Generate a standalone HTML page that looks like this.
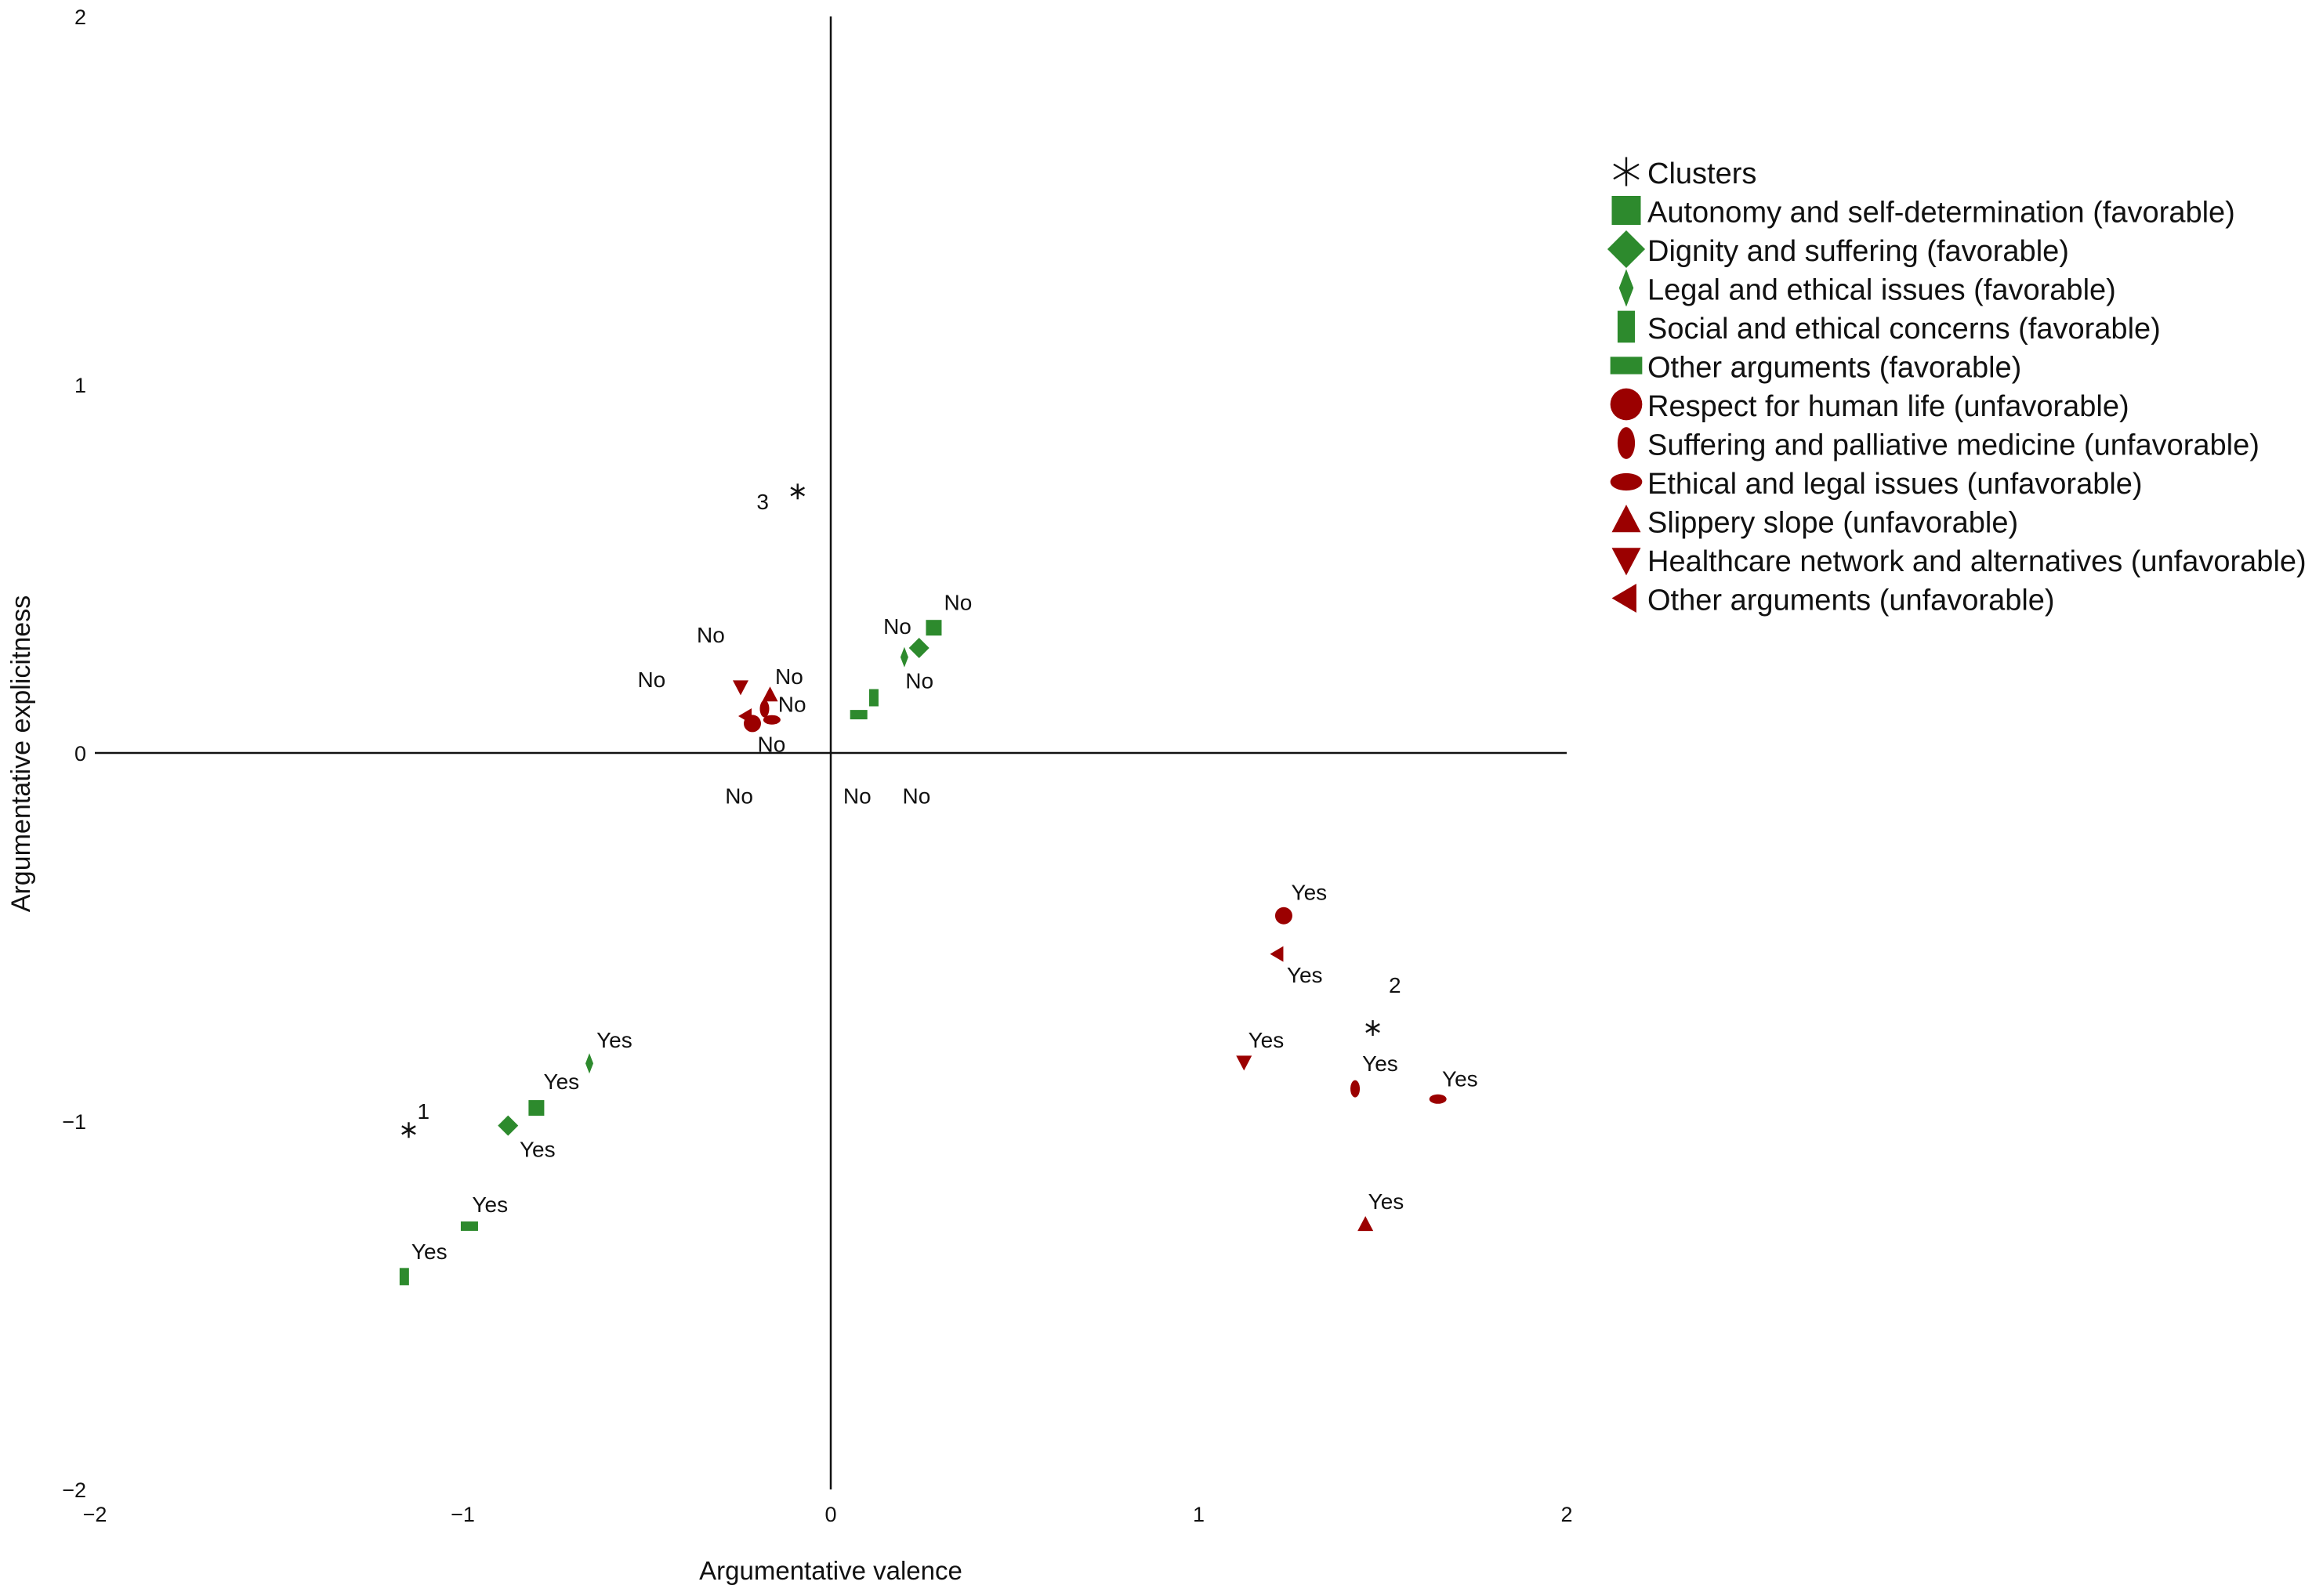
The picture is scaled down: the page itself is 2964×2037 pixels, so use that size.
<!DOCTYPE html>
<html><head><meta charset="utf-8"><style>
html,body{margin:0;padding:0;background:#fff;}
svg{display:block;font-family:"Liberation Sans",Arial,sans-serif;}
</style></head><body>
<svg id="chart" width="2964" height="2037" viewBox="0 0 2964 2037" xmlns="http://www.w3.org/2000/svg"></svg>
<script>
// ---- data ----
const pointTypes = ['autonomy','dignity','legalFav','social','otherFav','respect','suffering','ethicalUnf','slippery','healthcare','otherUnf',
                    'autonomy','dignity','legalFav','social','otherFav','respect','suffering','ethicalUnf','slippery','healthcare','otherUnf'];
const pointX = [0.28,0.24,0.20,0.117,0.076,-0.213,-0.18,-0.16,-0.165,-0.245,-0.23,
                -0.80,-0.877,-0.656,-1.159,-0.982,1.231,1.425,1.65,1.453,1.123,1.215];
const pointY = [0.34,0.285,0.26,0.15,0.104,0.08,0.12,0.09,0.157,0.18,0.10,
                -0.964,-1.012,-0.843,-1.422,-1.285,-0.442,-0.912,-0.94,-1.281,-0.839,-0.546];
const clusterNames = ['1','2','3'];
const clusterX = [-1.147,1.473,-0.09];
const clusterY = [-1.024,-0.747,0.71];
const clusterLabelX = [-1.107,1.533,-0.185];
const clusterLabelY = [-0.972,-0.63,0.683];
const pointLabels = ['No','No','No','No','No','No','No','No','No','No','No',
                     'Yes','Yes','Yes','Yes','Yes','Yes','Yes','Yes','Yes','Yes','Yes'];
const labelX = [0.346,0.181,0.241,0.072,0.233,-0.326,-0.487,-0.113,-0.105,-0.161,-0.249,
                -0.588,-0.732,-0.797,-0.926,-1.091,1.3,1.288,1.183,1.493,1.71,1.509];
const labelY = [0.41,0.345,0.197,-0.116,-0.116,0.321,0.2,0.209,0.133,0.024,-0.116,
                -0.779,-0.892,-1.076,-1.225,-1.353,-0.378,-0.602,-0.779,-0.843,-0.884,-1.217];
const xTicks = [-2,-1,0,1,2];
const yTicks = [-2,-1,0,1,2];
const legendKeys = ['cluster','autonomy','dignity','legalFav','social','otherFav','respect','suffering','ethicalUnf','slippery','healthcare','otherUnf'];
const legendLabels = ['Clusters','Autonomy and self-determination (favorable)','Dignity and suffering (favorable)','Legal and ethical issues (favorable)','Social and ethical concerns (favorable)','Other arguments (favorable)','Respect for human life (unfavorable)','Suffering and palliative medicine (unfavorable)','Ethical and legal issues (unfavorable)','Slippery slope (unfavorable)','Healthcare network and alternatives (unfavorable)','Other arguments (unfavorable)'];

// ---- scales ----
const X0=1060, XU=469.5, Y0=961, YU=470;
const sx = v => X0 + v*XU;
const sy = v => Y0 - v*YU;
const G='#2d8a2d', R='#9b0000';
const NS='http://www.w3.org/2000/svg';
const svg=document.getElementById('chart');
function mk(tag, attrs, parent){const e=document.createElementNS(NS,tag);for(const k in attrs)e.setAttribute(k,attrs[k]);(parent||svg).appendChild(e);return e;}

function marker(type, cx, cy, s, parent){
  const g=mk('g',{},parent);
  const P=(pts,fill)=>mk('polygon',{points:pts.map(p=>(cx+p[0]*s)+','+(cy+p[1]*s)).join(' '),fill:fill},g);
  switch(type){
    case 'autonomy': mk('rect',{x:cx-10*s,y:cy-10*s,width:20*s,height:20*s,fill:G},g);break;
    case 'dignity': P([[0,-13],[13,0],[0,13],[-13,0]],G);break;
    case 'legalFav': P([[0,-13],[5,0],[0,13],[-5,0]],G);break;
    case 'social': mk('rect',{x:cx-6*s,y:cy-11*s,width:12*s,height:22*s,fill:G},g);break;
    case 'otherFav': mk('rect',{x:cx-11*s,y:cy-6*s,width:22*s,height:12*s,fill:G},g);break;
    case 'respect': mk('circle',{cx:cx,cy:cy,r:11*s,fill:R},g);break;
    case 'suffering': mk('ellipse',{cx:cx,cy:cy,rx:6*s,ry:11*s,fill:R},g);break;
    case 'ethicalUnf': mk('ellipse',{cx:cx,cy:cy,rx:11*s,ry:6*s,fill:R},g);break;
    case 'slippery': P([[0,-11],[10,8],[-10,8]],R);break;
    case 'healthcare': P([[-10,-8],[10,-8],[0,11]],R);break;
    case 'otherUnf': P([[-10,0],[7,-10],[7,10]],R);break;
    case 'cluster': {
      const r=10*s;
      for(let i=0;i<3;i++){const a=Math.PI/2+i*Math.PI/3;
        mk('line',{x1:cx+r*Math.cos(a),y1:cy-r*Math.sin(a),x2:cx-r*Math.cos(a),y2:cy+r*Math.sin(a),stroke:'#111','stroke-width':2.4},g);}
      break;}
  }
  return g;
}

// axes
const axes=mk('g',{});


const xl=mk('line',{x1:sx(-2),y1:sy(0),x2:sx(2),y2:sy(0),stroke:'#111','stroke-width':2.5},axes);


const yl=mk('line',{x1:sx(0),y1:sy(2),x2:sx(0),y2:sy(-2),stroke:'#111','stroke-width':2.5},axes);



xTicks.forEach(v=>{
  const t=mk('text',{x:sx(v),y:1942,'text-anchor':'middle','font-size':27,fill:'#111'},axes);
  t.textContent=(v<0?'\u2212':'')+Math.abs(v);
  
  
});
yTicks.forEach(v=>{
  const t=mk('text',{x:110,y:sy(v)+10,'text-anchor':'end','font-size':27,fill:'#111'},axes);
  t.textContent=(v<0?'\u2212':'')+Math.abs(v);
  
  
});
const xt=mk('text',{x:1060,y:2016,'text-anchor':'middle','font-size':33,fill:'#111'},axes);
xt.textContent='Argumentative valence';


const yt=mk('text',{x:0,y:0,'text-anchor':'middle','font-size':34,fill:'#111',transform:'translate(38,962) rotate(-90)'},axes);
yt.textContent='Argumentative explicitness';



// points
pointTypes.forEach((t,i)=>{
  const g=marker(t,sx(pointX[i]),sy(pointY[i]),1);
  
  
});
pointLabels.forEach((s,i)=>{
  const t=mk('text',{x:sx(labelX[i]),y:sy(labelY[i])+10,'text-anchor':'middle','font-size':28,fill:'#111'});
  t.textContent=s;
  
  
});
clusterNames.forEach((n,i)=>{
  const g=marker('cluster',sx(clusterX[i]),sy(clusterY[i]),1);
  
  
  const t=mk('text',{x:sx(clusterLabelX[i]),y:sy(clusterLabelY[i])+10,'text-anchor':'middle','font-size':28,fill:'#111'});
  t.textContent=n;
  
  
});

// legend
const lg=mk('g',{});


legendKeys.forEach((k,i)=>{
  const cy=221+i*49.5;
  const e=mk('g',{},lg);
  
  
  marker(k,2075,cy-2,1.85,e);
  const t=mk('text',{x:2102,y:cy+13,'font-size':38,fill:'#111'},e);
  t.textContent=legendLabels[i];
});
</script>
</body></html>
